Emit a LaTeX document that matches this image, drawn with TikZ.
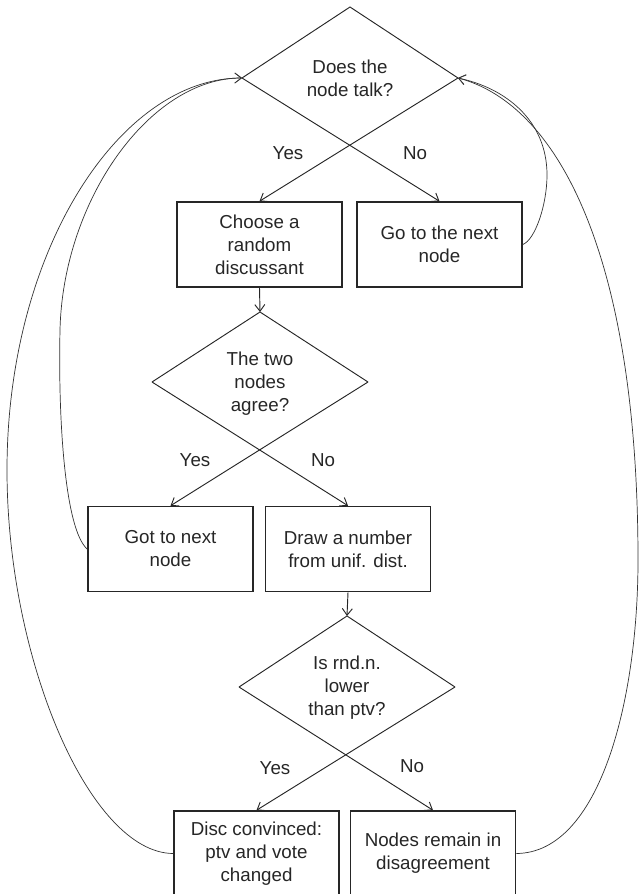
\documentclass[tikz,border=0pt]{standalone}
\usepackage{fontspec}
\setmainfont{Liberation Sans}
\usetikzlibrary{arrows.meta}
\begin{document}
\begin{tikzpicture}[x=0.03cm,y=-0.03cm,
  every node/.style={font=\fontsize{16}{19.6}\selectfont, text=black!85},
  flowbox/.style={draw=black!85, line width=1.3pt, minimum width=4.95cm, minimum height=2.55cm, inner sep=0pt, align=center},
  qtext/.style={align=center, inner sep=0pt},
  lbl/.style={inner sep=0pt},
  dline/.style={draw=black!85, line width=0.8pt},
  arr/.style={dline, -{Straight Barb[length=2mm,width=3mm]}},
  loopline/.style={draw=black!80, line width=0.6pt, -{Straight Barb[length=2mm,width=3mm]}}
]
\useasboundingbox (0,0) rectangle (639,894);
\clip (0,0) rectangle (639,894);

% boxes
\node[flowbox] (choose) at (259.5,244.5) {Choose a\\random\\discussant};
\node[flowbox] (gonext) at (439.5,244.5) {Go to the next\\node};
\node[flowbox] (got) at (170.5,549) {Got to next\\node};
\node[flowbox] (drawn) at (348,549) {Draw a number\\from unif. dist.};
\node[flowbox] (disc) at (256.5,853.5) {Disc convinced:\\ptv and vote\\changed};
\node[flowbox] (remain) at (433,853.5) {Nodes remain in\\disagreement};

% diamond 1
\coordinate (d1t) at (350,7);
\coordinate (d1l) at (242,78);
\coordinate (d1r) at (458,78);
\node[qtext] (d1) at (350,78.5) {Does the\\node talk?};
\draw[dline] (d1l) -- (d1t) -- (d1r);
\draw[arr] (d1r) -- (choose.north);
\draw[arr] (d1l) -- (gonext.north);
\node[lbl] (y1) at (288,153) {Yes};
\node[lbl] (n1) at (415,153) {No};

% diamond 2
\coordinate (d2t) at (260,312);
\coordinate (d2l) at (152,382);
\coordinate (d2r) at (368,382);
\node[qtext] (d2) at (260,383.5) {The two\\nodes\\agree?};
\draw[arr] (choose.south) -- (d2t);
\draw[dline] (d2l) -- (d2t) -- (d2r);
\draw[arr] (d2r) -- (got.north);
\draw[arr] (d2l) -- (drawn.north);
\node[lbl] (y2) at (195,460) {Yes};
\node[lbl] (n2) at (323,460) {No};

% diamond 3
\coordinate (d3t) at (347,616);
\coordinate (d3l) at (239,687);
\coordinate (d3r) at (455,687);
\node[qtext] (d3) at (347,688) {Is rnd.n.\\lower\\than ptv?};
\draw[arr] (drawn.south) -- (d3t);
\draw[dline] (d3l) -- (d3t) -- (d3r);
\draw[arr] (d3r) -- (disc.north);
\draw[arr] (d3l) -- (remain.north);
\node[lbl] (y3) at (275,768) {Yes};
\node[lbl] (n3) at (412,766) {No};

% loops back
\draw[loopline] (remain.east) .. controls (600,853) and (638,700) .. (638,560)
  .. controls (638,260) and (560,105) .. (d1r);
\draw[loopline] (gonext.east) .. controls (535,240) and (547,205) .. (547,175)
  .. controls (547,120) and (505,88) .. (d1r);
\draw[loopline] (disc.west) .. controls (90,853) and (7,660) .. (7,470)
  .. controls (7,250) and (120,78) .. (d1l);
\draw[loopline] (got.west) .. controls (65,530) and (58,420) .. (60,330)
  .. controls (63,200) and (150,78) .. (d1l);
\end{tikzpicture}
\end{document}
